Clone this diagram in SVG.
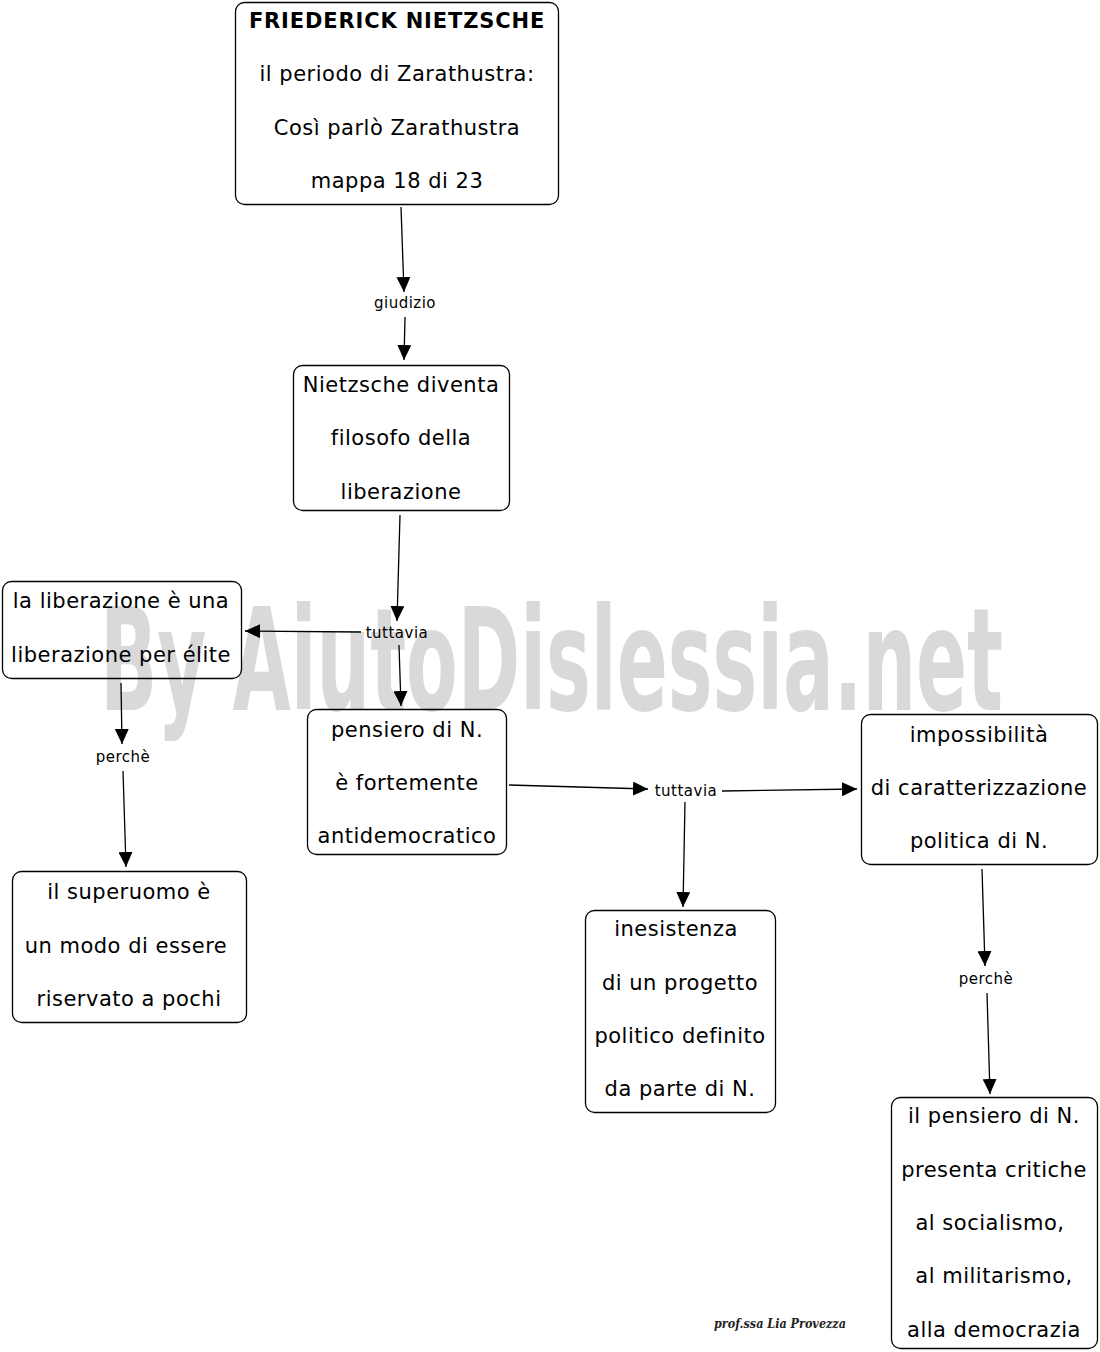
<svg xmlns="http://www.w3.org/2000/svg" width="1100" height="1352" viewBox="0 0 1100 1352">
<style>
.box{fill:none;stroke:#000;stroke-width:1.3}
.t{font-family:"DejaVu Sans","Verdana",sans-serif;font-size:21px;letter-spacing:0.5px;text-anchor:middle;fill:#000}
.b{font-weight:bold;letter-spacing:0.85px}
.lbl{font-family:"DejaVu Sans","Verdana",sans-serif;font-size:15px;letter-spacing:0.5px;text-anchor:middle;fill:#000}
.c{stroke:#000;stroke-width:1.3;fill:none;marker-end:url(#ah)}
</style>
<defs>
<marker id="ah" markerUnits="userSpaceOnUse" markerWidth="16" markerHeight="14" refX="15" refY="7" orient="auto">
<path d="M0,0 L15,7 L0,14 Z" fill="#000"/>
</marker>
</defs>
<rect width="1100" height="1352" fill="#fff"/>
<g id="watermark">
<text x="100" y="710" font-family="'DejaVu Sans Condensed','Liberation Sans Narrow',sans-serif" font-weight="bold" font-size="142" fill="#d9d9d9" textLength="903" lengthAdjust="spacingAndGlyphs">By AiutoDislessia.net</text>
</g>

<g id="connectors">
<line class="c" x1="401" y1="207" x2="404" y2="292"/>
<text class="lbl" x="405" y="308">giudizio</text>
<line class="c" x1="405" y1="317" x2="404" y2="360"/>
<line class="c" x1="400" y1="515" x2="397" y2="621"/>
<text class="lbl" x="397" y="638">tuttavia</text>
<line class="c" x1="361" y1="632" x2="245" y2="631"/>
<line class="c" x1="399" y1="645" x2="401" y2="706"/>
<line class="c" x1="121" y1="683" x2="122" y2="744"/>
<text class="lbl" x="123" y="762">perchè</text>
<line class="c" x1="123" y1="771" x2="126" y2="867"/>
<line class="c" x1="509" y1="785" x2="648" y2="789"/>
<text class="lbl" x="686" y="796">tuttavia</text>
<line class="c" x1="722" y1="791" x2="857" y2="789"/>
<line class="c" x1="685" y1="802" x2="683" y2="907"/>
<line class="c" x1="982" y1="869" x2="985" y2="966"/>
<text class="lbl" x="986" y="984">perchè</text>
<line class="c" x1="987" y1="993" x2="990" y2="1094"/>
</g>

<g id="n1">
<rect class="box" x="235.5" y="2.5" width="323" height="202" rx="9"/>
<text class="t b" x="397" y="28">FRIEDERICK NIETZSCHE</text>
<text class="t" x="397" y="81">il periodo di Zarathustra:</text>
<text class="t" x="397" y="135">Così parlò Zarathustra</text>
<text class="t" x="397" y="188">mappa 18 di 23</text>
</g>

<g id="n2">
<rect class="box" x="293.5" y="365.5" width="216" height="145" rx="9"/>
<text class="t" x="401" y="392">Nietzsche diventa</text>
<text class="t" x="401" y="445">filosofo della</text>
<text class="t" x="401" y="499">liberazione</text>
</g>

<g id="n3">
<rect class="box" x="2.5" y="581.5" width="239" height="97" rx="9"/>
<text class="t" x="121" y="608">la liberazione è una</text>
<text class="t" x="121" y="662">liberazione per élite</text>
</g>

<g id="n4">
<rect class="box" x="307.5" y="709.5" width="199" height="145" rx="9"/>
<text class="t" x="407" y="737">pensiero di N.</text>
<text class="t" x="407" y="790">è fortemente</text>
<text class="t" x="407" y="843">antidemocratico</text>
</g>

<g id="n5">
<rect class="box" x="861.5" y="714.5" width="236" height="150" rx="9"/>
<text class="t" x="979" y="742">impossibilità</text>
<text class="t" x="979" y="795">di caratterizzazione</text>
<text class="t" x="979" y="848">politica di N.</text>
</g>

<g id="n6">
<rect class="box" x="585.5" y="910.5" width="190" height="202" rx="9"/>
<text class="t" x="676" y="936">inesistenza</text>
<text class="t" x="680" y="990">di un progetto</text>
<text class="t" x="680" y="1043">politico definito</text>
<text class="t" x="680" y="1096">da parte di N.</text>
</g>

<g id="n7">
<rect class="box" x="12.5" y="871.5" width="234" height="151" rx="9"/>
<text class="t" x="129" y="899">il superuomo è</text>
<text class="t" x="126" y="953">un modo di essere</text>
<text class="t" x="129" y="1006">riservato a pochi</text>
</g>

<g id="n8">
<rect class="box" x="891.5" y="1097.5" width="206" height="251" rx="9"/>
<text class="t" x="994" y="1123">il pensiero di N.</text>
<text class="t" x="994" y="1177">presenta critiche</text>
<text class="t" x="990" y="1230">al socialismo,</text>
<text class="t" x="994" y="1283">al militarismo,</text>
<text class="t" x="994" y="1337">alla democrazia</text>
</g>

<text id="signature" x="714" y="1328" font-family="'DejaVu Serif','Liberation Serif',serif" font-style="italic" font-weight="bold" font-size="13" fill="#222" textLength="132" lengthAdjust="spacingAndGlyphs">prof.ssa Lia Provezza</text>
</svg>
